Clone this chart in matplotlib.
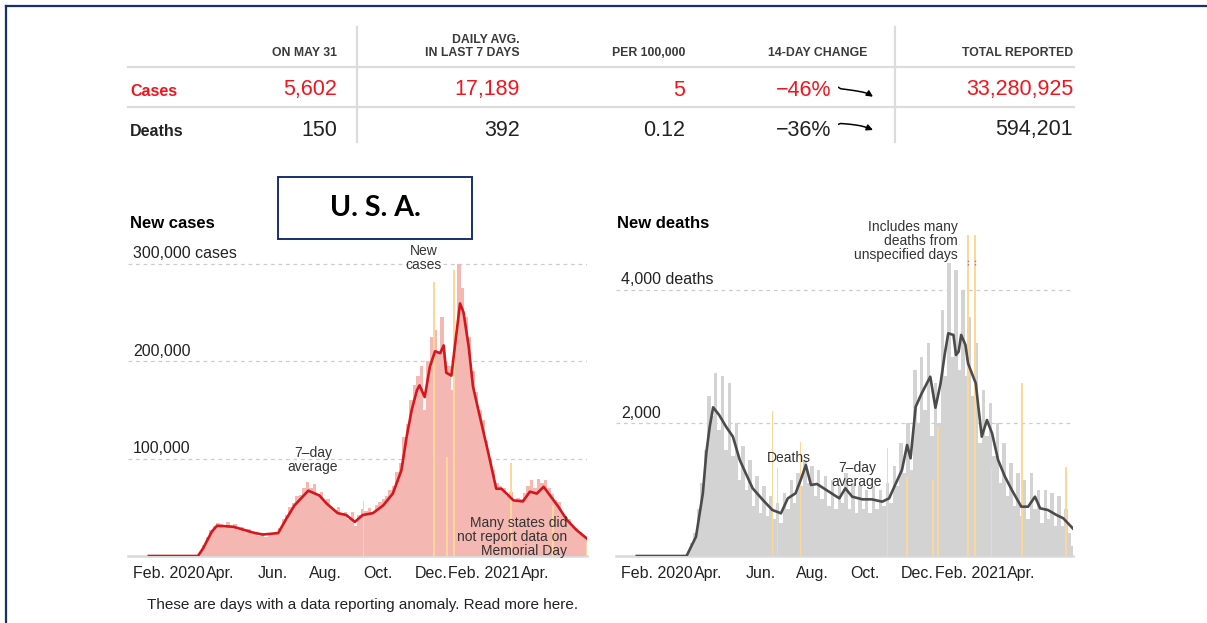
import numpy as np
import matplotlib.pyplot as plt
from matplotlib.patches import Rectangle
from matplotlib.lines import Line2D

plt.rcParams['font.family'] = ['Liberation Sans', 'DejaVu Sans']

W, H = 1207, 623

# summary table
col_heads = ["ON MAY 31", "DAILY AVG.\nIN LAST 7 DAYS", "PER 100,000", "14-DAY CHANGE", "TOTAL REPORTED"]
row_names = ["Cases", "Deaths"]
cases_stats = ["5,602", "17,189", "5", "\u221246%", "33,280,925"]
deaths_stats = ["150", "392", "0.12", "\u221236%", "594,201"]
# 7-day average over the last 14 days (sparklines)
cases_trend = [32.5, 29.8, 29.2, 28.7, 28.1, 27.5, 26.9, 26.2, 25.4, 24.6, 23.6, 22.2, 20.0, 17.2]
deaths_trend = [580, 612, 605, 598, 590, 580, 568, 555, 540, 520, 495, 465, 430, 392]

# daily series, day 0 = Jan 1 2020, bars every 4 days from day 8
bar_start, bar_step = 8, 4
cases_bars = [
    0, 0, 0, 0, 0, 0, 0, 0, 0, 0,
    0, 0, 0, 0, 300, 4500, 11000, 19000, 27000, 31000,
    34000, 33000, 29000, 35000, 31000, 33000, 27000, 30000, 25000, 28000,
    23000, 25000, 21000, 24000, 20000, 24000, 22000, 25000, 29000, 38000,
    42000, 50000, 54000, 62000, 63000, 70000, 76000, 70000, 74000, 64000,
    66000, 55000, 58000, 50000, 47000, 50000, 44000, 45000, 38000, 45000,
    31000, 42000, 48000, 46000, 49000, 45000, 52000, 55000, 58000, 62000,
    68000, 72000, 86000, 95000, 122000, 135000, 160000, 175000, 185000, 195000,
    150000, 200000, 225000, 232000, 210000, 245000, 200000, 195000, 170000, 230000,
    300000, 275000, 245000, 225000, 190000, 168000, 150000, 140000, 118000, 100000,
    88000, 75000, 72000, 70000, 62000, 66000, 55000, 60000, 58000, 65000,
    72000, 78000, 70000, 79000, 75000, 78000, 70000, 64000, 57000, 55000,
    44000, 40000, 38000, 30000, 29000, 25000, 22000, 17000,
]
cases_avg_days = [8, 65, 71, 81, 87, 106, 129, 140, 158, 168, 177, 193, 206, 214, 227, 237,
                  247, 256, 268, 280, 291, 301, 307, 313, 319, 322, 328, 334, 340, 346, 350,
                  353, 359, 363, 369, 373, 379, 384, 392, 402, 411, 417, 423, 431, 442, 450,
                  458, 466, 473, 483, 493, 504, 516]
cases_avg = [0, 0, 8000, 25000, 31000, 30000, 24000, 22000, 23500, 39000, 52000, 67000, 62000,
             54000, 44000, 42000, 35000, 42000, 44000, 52000, 64000, 88000, 122000, 150000,
             170000, 175000, 163000, 194000, 210000, 208000, 216000, 188000, 185000, 215000,
             259000, 250000, 215000, 174000, 143000, 105000, 69000, 69000, 64000, 57000, 56000,
             66000, 64000, 71000, 62600, 50600, 37000, 26700, 18000]
cases_odd_days = [257, 339, 354, 362, 428, 477, 516]
cases_odd = [56000, 281000, 102000, 293000, 95000, 52000, 14000]

deaths_bars = [
    0, 0, 0, 0, 0, 0, 0, 0, 0, 0,
    0, 0, 0, 2, 10, 60, 200, 350, 700, 1100,
    1600, 2400, 2100, 2750, 1900, 2700, 1600, 2600, 1500, 2000,
    1150, 1650, 1000, 1450, 750, 1200, 650, 1050, 600, 900,
    550, 800, 500, 950, 700, 1150, 800, 1250, 1050, 1450,
    1100, 1350, 900, 1300, 850, 1200, 750, 1150, 700, 1050,
    800, 1250, 700, 1100, 650, 1050, 700, 1000, 650, 1050,
    700, 1000, 750, 1100, 800, 1350, 1050, 1700, 1250, 2000,
    1300, 2800, 2000, 3000, 2200, 3200, 1800, 2600, 2000, 3700,
    2700, 4400, 3000, 4300, 2800, 4000, 2700, 3600, 2400, 3200,
    1700, 2500, 1800, 2300, 1500, 2000, 1100, 1700, 900, 1400,
    750, 1250, 600, 1150, 550, 1250, 700, 1000, 500, 1000,
    550, 950, 450, 900, 450, 700, 350, 150,
]
deaths_avg_days = [8, 66, 77, 85, 89, 93, 97, 104, 112, 120, 128, 135, 143, 155, 166, 176, 184,
                   193, 199, 205, 211, 218, 232, 244, 251, 259, 271, 282, 294, 302, 309, 317,
                   323, 327, 333, 340, 350, 356, 362, 367, 371, 377, 380, 383, 386, 391, 394,
                   400, 403, 406, 410, 416, 422, 429, 437, 445, 456, 464, 472, 478, 487, 497,
                   505, 516]
deaths_avg = [0, 0, 290, 943, 1545, 1945, 2236, 2120, 1945, 1795, 1444, 1243, 1018, 842, 692,
              642, 867, 943, 1143, 1368, 1068, 1083, 967, 867, 1018, 892, 852, 852, 817, 867,
              1068, 1293, 1669, 1469, 2245, 2446, 2696, 2230, 2597, 3048, 3349, 3324, 3023,
              3073, 3324, 3173, 2897, 2696, 2597, 2245, 1795, 2045, 1845, 1444, 1193, 993, 742,
              742, 892, 717, 692, 617, 567, 416]
deaths_odd_days = [166, 172, 199, 300, 323, 353, 359, 394, 402, 421, 457, 508]
deaths_odd = [2185, 1318, 1719, 1620, 1193, 1143, 1945, 4827, 4827, 1318, 2597, 1343]

month_days = [31, 91, 152, 213, 274, 335, 397, 456]
month_labels = ["Feb. 2020", "Apr.", "Jun.", "Aug.", "Oct.", "Dec.", "Feb. 2021", "Apr."]

assert len(cases_bars) == len(deaths_bars) == 128
bar_days = np.arange(len(cases_bars)) * bar_step + bar_start

RED = '#d5161d'
HOT = '#f2141c'
PINK = '#f5b7b2'
ORANGE = '#fdd69a'
GRAYBAR = '#d3d3d3'
DARK = '#4b4b4b'
NAVY = '#15306c'
TXT = '#222222'


def fx(x):
    return x / W


def fy(y):
    return 1 - y / H


fig = plt.figure(figsize=(W / 100, H / 100), dpi=100)

# frame
fig.add_artist(Line2D([fx(6), 1], [fy(6), fy(6)], color=NAVY, lw=1.6))
fig.add_artist(Line2D([fx(6), fx(6)], [fy(6), 0], color=NAVY, lw=1.6))

# table
sep = '#dcdcdc'
for yy in [66.5, 106.5]:
    fig.add_artist(Line2D([fx(128), fx(1074)], [fy(yy)] * 2, color=sep, lw=1.6))
for xx in [357, 895]:
    fig.add_artist(Line2D([fx(xx)] * 2, [fy(27), fy(142)], color=sep, lw=1.6))

head_right = [337, 520, 685, 867, 1073]
val_right = [337, 520, 685, 831, 1073]
for i, h in enumerate(col_heads):
    yc = 46.5 if '\n' in h else 53
    fig.text(fx(head_right[i]), fy(yc), h, ha='right', va='center', fontsize=8.8,
             fontweight='bold', color='#3a3a3a', linespacing=1.15, multialignment='right')
for i in range(5):
    fig.text(fx(val_right[i]), fy(90), cases_stats[i], ha='right', va='center',
             fontsize=15.5, color=HOT)
    fig.text(fx(val_right[i]), fy(130), deaths_stats[i], ha='right', va='center',
             fontsize=15.5, color=TXT)
fig.text(fx(130), fy(91), row_names[0], ha='left', va='center', fontsize=11.5,
         fontweight='bold', color=HOT)
fig.text(fx(130), fy(131), row_names[1], ha='left', va='center', fontsize=11.5,
         fontweight='bold', color=TXT)

# sparklines
for trend, top, bot, lim in [(cases_trend, 85, 99, (13.6, 35.7)),
                             (deaths_trend, 118, 134, (257, 798))]:
    sp = fig.add_axes([fx(838), fy(bot), fx(873) - fx(838), (bot - top) / H])
    n = len(trend)
    sp.plot(range(n - 1), trend[:-1], color='black', lw=1.1, solid_capstyle='round')
    sp.annotate('', xy=(n - 1, trend[-1]), xytext=(n - 2, trend[-2]),
                arrowprops=dict(arrowstyle='-|>', color='black', lw=1.1,
                                mutation_scale=9, shrinkA=0, shrinkB=0))
    sp.set_xlim(0, n - 1)
    sp.set_ylim(*lim)
    sp.axis('off')

# U. S. A. box
fig.add_artist(Rectangle((fx(278), fy(239)), fx(472) - fx(278), (239 - 177) / H,
                         transform=fig.transFigure, fill=False, ec=NAVY, lw=1.4))
fig.text(fx(375), fy(208), "U. S. A.", ha='center', va='center', fontsize=20.5,
         fontweight='bold', family=['Lato', 'DejaVu Sans'], color='black')

# charts
ax1 = fig.add_axes([fx(128), fy(556), fx(587) - fx(128), (556 - 240) / H])
ax2 = fig.add_axes([fx(616), fy(556), fx(1073) - fx(616), (556 - 230) / H])

ax1.bar(bar_days, cases_bars, width=bar_step, color=PINK, linewidth=0, zorder=2)
ax1.bar(cases_odd_days, cases_odd, width=1.6, color=ORANGE, linewidth=0, zorder=2.5)
ax1.plot(cases_avg_days, cases_avg, color=RED, lw=1.9, zorder=4)
ax1.set_ylim(0, (556 - 240) / 97.5 * 100000)

ax2.bar(bar_days, deaths_bars, width=bar_step, color=GRAYBAR, linewidth=0, zorder=2)
ax2.bar(deaths_odd_days, deaths_odd, width=1.6, color=ORANGE, linewidth=0, zorder=2.5)
ax2.plot(deaths_avg_days, deaths_avg, color=DARK, lw=1.9, zorder=4)
ax2.set_ylim(0, (556 - 230) * 2000 / 133)
for d in [394, 402]:
    ax2.plot([d, d], [4380, 4480], color='#888888', lw=1.0, ls=(0, (1, 1.5)), zorder=5)

grid_sets = [(ax1, [100000, 200000, 300000], ["100,000", "200,000", "300,000 cases"]),
             (ax2, [2000, 4000], ["2,000", "4,000 deaths"])]
for ax, vals, labs in grid_sets:
    ax.set_xlim(-16.2, 516.3)
    for v, lab in zip(vals, labs):
        ax.axhline(v, color='#cccccc', lw=0.9, ls=(0, (3, 3)), zorder=1)
        ax.annotate(lab, xy=(0, v), xycoords=('axes fraction', 'data'),
                    xytext=(3.6, 7.2), textcoords='offset points', ha='left',
                    va='center', fontsize=11.5, color=TXT)
    ax.axhline(0, color='#d9d9d9', lw=1.8, zorder=1, clip_on=False)
    ax.set_xticks(month_days)
    ax.set_xticklabels(month_labels)
    ax.tick_params(axis='x', length=0, labelsize=11.5, pad=7, colors=TXT)
    ax.set_yticks([])
    for s in ax.spines.values():
        s.set_visible(False)
    ax.patch.set_alpha(0)

# titles
fig.text(fx(130), fy(224), "New cases", ha='left', va='center', fontsize=12,
         fontweight='bold', color='black')
fig.text(fx(617), fy(224), "New deaths", ha='left', va='center', fontsize=12,
         fontweight='bold', color='black')

# annotations
ann = dict(fontsize=10, color='#333333', linespacing=1.0)
fig.text(fx(424), fy(258), "New\ncases", ha='center', va='center', **ann)
fig.text(fx(313), fy(460), "7\u2013day\naverage", ha='center', va='center', **ann)
fig.text(fx(567), fy(537), "Many states did\nnot report data on\nMemorial Day", ha='right',
         va='center', multialignment='right', **ann)
fig.text(fx(958), fy(241), "Includes many\ndeaths from\nunspecified days", ha='right',
         va='center', multialignment='right', **ann)
fig.text(fx(789), fy(458), "Deaths", ha='center', va='center', **ann)
fig.text(fx(857), fy(475), "7\u2013day\naverage", ha='center', va='center', **ann)

fig.text(fx(147), fy(605), "These are days with a data reporting anomaly. Read more here.",
         ha='left', va='center', fontsize=11, color=TXT)

fig.savefig('out.png', dpi=100)
